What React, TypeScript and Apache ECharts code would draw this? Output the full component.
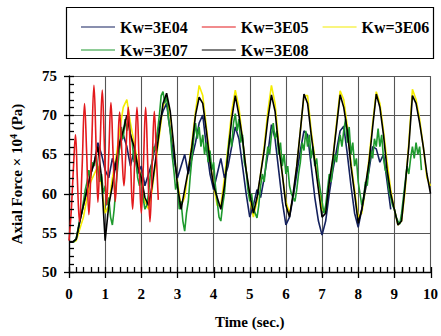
import React, { useEffect, useRef } from "react";
import * as echarts from "echarts";

const SERIES_NAMES = ["Kw=3E04", "Kw=3E05", "Kw=3E06", "Kw=3E07", "Kw=3E08"];
const X_TICKS = [0, 1, 2, 3, 4, 5, 6, 7, 8, 9, 10];
const Y_TICKS = [50, 55, 60, 65, 70, 75];
const X_MINOR_STEP = 0.2;
const Y_MINOR_STEP = 1;

// time step (s) of the sampled series
const STEP_COARSE = 0.1;
const STEP_FINE = 0.05;

// Kw=3E04 (navy), sampled every 0.1 s from t=0
const kw3e04 = [
  53.8, 53.8, 54.2, 56.5, 58.5, 60.5, 62.5, 64, 66.5, 65,
  63, 62, 64.5, 63, 66, 67.5, 66, 63.5, 65.5, 62.5,
  63.5, 61, 62.5, 64, 66.5, 69, 70.5, 71.5, 68, 64.5,
  62, 63.5, 65, 62.5, 64.5, 66.5, 69, 70, 66, 62.5,
  60.5, 62.5, 64.5, 62, 63.5, 66, 68.5, 67, 63.5, 60,
  57, 58.5, 60.5, 59.5, 62, 65, 68.8, 67, 63, 59,
  56, 57, 59.5, 62.5, 65.5, 68, 67.5, 63.5, 59.5, 56.5,
  54.7, 56.5, 60, 63, 65.5, 68, 68.6, 65, 61, 57.5,
  55.7, 58, 60.5, 63, 66, 65.7, 64, 65, 61.5, 58,
];

// Kw=3E05 (red) as [time, value]
const kw3e05T = [
  0.0, 0.06, 0.12, 0.18, 0.23, 0.29, 0.36, 0.43, 0.49, 0.55,
  0.62, 0.69, 0.75, 0.8, 0.86, 0.92, 0.98, 1.04, 1.1, 1.16,
  1.22, 1.28, 1.34, 1.4, 1.46, 1.52, 1.58, 1.64, 1.7, 1.76,
  1.82, 1.88, 1.94, 2.0, 2.06, 2.12, 2.18, 2.24, 2.3, 2.36,
  2.42, 2.47,
];
const kw3e05V = [
  54.0, 57.6, 63, 67.5, 62, 56.4, 63, 71.5, 65, 57.3,
  65, 73.8, 66, 58.9, 66, 73.2, 66, 58.6, 65, 71.6,
  65, 59, 64.5, 70.4, 65.5, 61, 66, 71, 64.5, 58,
  64.5, 71, 64, 57.5, 64, 71, 63.5, 56.4, 63.5, 70.5,
  64.5, 59.2,
];

// Kw=3E06 (yellow), every 0.1 s
const kw3e06 = [
  53.8, 53.8, 54, 55.5, 57, 59.5, 61.5, 62.5, 63.5, 61,
  57.5, 58.5, 62, 64.5, 68, 71, 72, 69, 66.5, 64,
  62, 59, 58, 60.5, 64, 67.5, 71, 72.5, 70, 65.5,
  61.5, 58.5, 59.5, 63, 66.5, 70.5, 73.8, 72.5, 68.5, 64.5,
  61, 58.5, 58.5, 62, 66, 70.5, 73.2, 71, 67, 63,
  59.5, 57, 59, 62.5, 66, 70.5, 73.8, 71.5, 66.5, 62.5,
  59, 57.5, 59.5, 63.5, 68, 72.5, 72.5, 68, 64.5, 61,
  58, 57.5, 61, 64.5, 69, 73.1, 72, 68.5, 64, 60.5,
  57, 57.5, 60.5, 64.5, 69, 73, 71.5, 68, 64, 60.5,
  58, 56, 56.5, 60.5, 66.5, 73.3, 72, 69.5, 66, 62,
  61,
];

// Kw=3E07 (green), every 0.05 s
const kw3e07 = [
  53.8, 53.8, 53.8, 53.9, 54.3, 55.5, 56.8, 57.5, 59, 60.5,
  61.5, 63, 62, 64, 63.5, 65, 63, 61.5, 62.5, 60,
  61, 58.5, 59.5, 57, 56, 58, 61, 63.5, 66, 68.5,
  67, 69.5, 68, 70, 67.5, 66.5, 64, 65, 62, 61,
  62.5, 59.5, 58, 58.5, 60, 62.5, 64, 66, 65.5, 68,
  70, 72.5, 73, 71.5, 72.5, 69.5, 68, 65, 63, 60.5,
  61.5, 58, 59, 56.5, 55.2, 57.5, 59, 62, 64.5, 67,
  69, 67, 68.5, 66, 67.5, 65, 66.5, 64, 65.5, 63,
  64, 61, 59, 57, 56.5, 58.5, 60, 63, 65.5, 67.5,
  66, 69, 70.2, 68, 69.5, 66.5, 67.5, 64, 63, 60.5,
  59, 60, 58, 57.5, 56.9, 58.5, 61, 62.5, 61.5, 64,
  66, 65, 67.5, 69, 67, 68, 65, 66.5, 63.5, 65,
  62.5, 63.5, 61, 60, 59.5, 59, 60.5, 62.5, 64, 66.5,
  65.5, 68, 66, 67.5, 64.5, 66, 63.5, 64.5, 62, 60.5,
  59, 57.5, 58.5, 60.5, 62.5, 61.5, 63.5, 65, 64, 66,
  67.5, 66, 68, 69.5, 66.5, 68.5, 65, 66.5, 63.5, 64.5,
  61.5, 60, 58.5, 59.5, 61.5, 61, 63.5, 65.5, 64.5, 67,
  66, 68.3, 66, 67.5, 64.5, 63, 62.5, 60.5, 59.5, 58.5,
  58, 57, 56.5, 56.1, 57.5, 59.5, 61.5, 63.5, 62.5, 64.5,
  66, 64.5, 66.5, 65, 66, 63,
];

// Kw=3E08 (black), every 0.1 s
const kw3e08 = [
  53.8, 53.8, 54.2, 56.5, 58.5, 60.5, 62.5, 64, 66, 62,
  54, 58.5, 61, 64, 66.5, 68, 70, 67.5, 66, 63.5,
  62, 59.5, 58.5, 61, 64.5, 68, 71.5, 72.8, 70.5, 66,
  61, 58, 60.5, 63, 66, 70, 72.3, 71.5, 68, 64,
  61, 59.5, 58, 61, 65, 69.5, 72.5, 70, 67, 63,
  60, 57.5, 59.5, 62.5, 65.5, 69.5, 72.6, 70.5, 66, 62.5,
  58.5, 57, 60, 63.5, 68, 72.7, 71.5, 67.5, 64, 60.5,
  57, 57.5, 61.5, 64.5, 68.5, 72.6, 71, 68, 63.5, 60,
  56.2, 58, 61, 64, 68.5, 72.7, 71, 67.5, 63, 60,
  58, 56, 56.5, 61, 66, 72.5, 71.5, 69, 66, 62.5,
  60,
];

const COLORS: Record<string, string> = {
  "Kw=3E04": "#14215e",
  "Kw=3E05": "#e3191c",
  "Kw=3E06": "#f4ec00",
  "Kw=3E07": "#1f9a2e",
  "Kw=3E08": "#000000",
};

const FONT = "'Liberation Serif', 'Times New Roman', serif";

function stepped(values: number[], step: number): number[][] {
  return values.map((v, i) => [Math.round(i * step * 100) / 100, v]);
}

function tickPositions(min: number, max: number, step: number): number[] {
  const out: number[] = [];
  const n = Math.round((max - min) / step);
  for (let i = 0; i <= n; i++) out.push(Math.round((min + i * step) * 1000) / 1000);
  return out;
}

export default function App() {
  const ref = useRef<HTMLDivElement>(null);

  useEffect(() => {
    if (!ref.current) return;
    const chart = echarts.init(ref.current, undefined, { renderer: "svg" });

    const lineSeries = (name: string, data: number[][], smooth: number | boolean = false) => ({
      name,
      type: "line",
      data,
      symbol: "none",
      smooth,
      lineStyle: { color: COLORS[name], width: 1.6 },
      itemStyle: { color: COLORS[name] },
    });

    const legendText = {
      fontFamily: FONT,
      fontWeight: "bold" as const,
      fontSize: 16,
      color: "#000",
    };

    const legendCommon = {
      left: 76,
      width: 380,
      orient: "horizontal",
      itemWidth: 34,
      itemHeight: 12,
      itemGap: 14,
      textStyle: legendText,
      icon: "path://M0,5 L34,5 L34,6.2 L0,6.2 Z",
    };

    const labelFont = {
      fontFamily: FONT,
      fontWeight: "bold",
      fontSize: 15,
      color: "#000",
    };

    const legendBox = {
      type: "rect",
      shape: { x: 66.5, y: 7.5, width: 367, height: 51 },
      style: { fill: "none", stroke: "#000", lineWidth: 1.2 },
      z: 100,
    };

    const option: any = {
      animation: false,
      backgroundColor: "#fff",
      grid: { left: 67, right: 9, top: 76, bottom: 64, containLabel: false },
      legend: [
        { ...legendCommon, data: [SERIES_NAMES[0], SERIES_NAMES[1], SERIES_NAMES[2]], top: 14 },
        { ...legendCommon, data: [SERIES_NAMES[3], SERIES_NAMES[4]], top: 37 },
      ],
      graphic: [legendBox],
      xAxis: {
        type: "value",
        min: 0,
        max: 10,
        interval: 1,
        position: "bottom",
        name: "Time (sec.)",
        nameLocation: "middle",
        nameGap: 42,
        nameTextStyle: labelFont,
        axisLine: { show: true, onZero: false, lineStyle: { color: "#000", width: 1.3 } },
        axisTick: { show: false },
        axisLabel: {
          margin: 14,
          ...labelFont,
          formatter: (v: number) => (X_TICKS.includes(v) ? String(v) : ""),
        },
        splitLine: { show: true, lineStyle: { color: "#555", width: 1.1 } },
      },
      yAxis: {
        type: "value",
        min: 50,
        max: 75,
        interval: 5,
        position: "left",
        name: "Axial Force × 10{sup|4} (Pa)",
        nameLocation: "middle",
        nameGap: 44,
        nameTextStyle: {
          ...labelFont,
          rich: {
            sup: { fontFamily: FONT, fontWeight: "bold", fontSize: 10, color: "#000", verticalAlign: "top", padding: [0, 0, 7, 0] },
          },
        },
        axisLine: { show: true, onZero: false, lineStyle: { color: "#000", width: 1.3 } },
        axisTick: { show: false },
        axisLabel: {
          margin: 12,
          ...labelFont,
          formatter: (v: number) => (Y_TICKS.includes(v) ? String(v) : ""),
        },
        splitLine: { show: true, lineStyle: { color: "#555", width: 1.1 } },
      },
      series: [
        lineSeries("Kw=3E06", stepped(kw3e06, STEP_COARSE)),
        lineSeries("Kw=3E04", stepped(kw3e04, STEP_COARSE)),
        lineSeries("Kw=3E07", stepped(kw3e07, STEP_FINE)),
        lineSeries("Kw=3E08", stepped(kw3e08, STEP_COARSE)),
        lineSeries(
          "Kw=3E05",
          kw3e05T.map((t, i) => [t, kw3e05V[i]]),
          0.4
        ),
      ],
    };

    chart.setOption(option);

    // Tick marks placed through the chart's own scales.
    const toPx = (x: number, y: number): number[] =>
      chart.convertToPixel({ xAxisIndex: 0, yAxisIndex: 0 } as any, [x, y]) as number[];
    const tickStyle = { stroke: "#000", lineWidth: 1.3 };
    const ticks: any[] = [];
    const yBase = Y_TICKS[0];
    const xBase = X_TICKS[0];
    tickPositions(0, 10, X_MINOR_STEP).forEach((v) => {
      const p = toPx(v, yBase);
      if (!p || isNaN(p[0])) return;
      const px = Math.round(p[0]) + 0.5;
      ticks.push({ type: "line", silent: true, z: 60, shape: { x1: px, y1: p[1], x2: px, y2: p[1] - 5 }, style: tickStyle });
      if (X_TICKS.includes(v)) {
        ticks.push({ type: "line", silent: true, z: 60, shape: { x1: px, y1: p[1], x2: px, y2: p[1] + 6 }, style: tickStyle });
      }
    });
    tickPositions(50, 75, Y_MINOR_STEP).forEach((v) => {
      const p = toPx(xBase, v);
      if (!p || isNaN(p[1])) return;
      const py = Math.round(p[1]) + 0.5;
      ticks.push({ type: "line", silent: true, z: 60, shape: { x1: p[0], y1: py, x2: p[0] + 5, y2: py }, style: tickStyle });
      if (Y_TICKS.includes(v)) {
        ticks.push({ type: "line", silent: true, z: 60, shape: { x1: p[0] - 5, y1: py, x2: p[0], y2: py }, style: tickStyle });
      }
    });
    chart.setOption({ graphic: [legendBox, ...ticks] });

    return () => chart.dispose();
  }, []);

  return <div ref={ref} style={{ width: 441, height: 336, position: "absolute", left: 0, top: 0 }} />;
}
